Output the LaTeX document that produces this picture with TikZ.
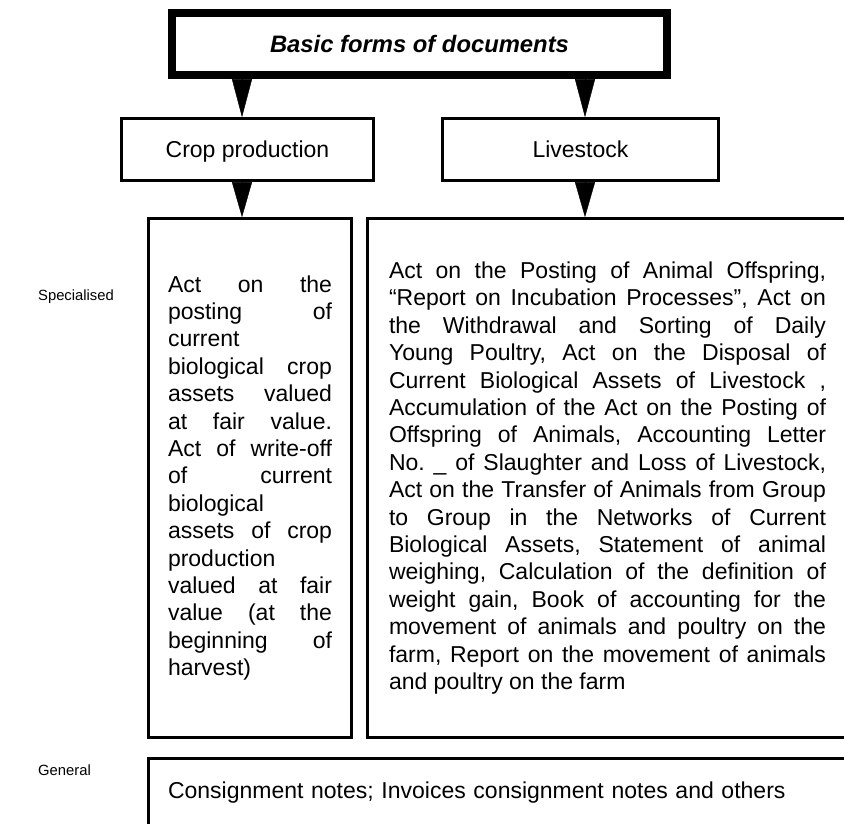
\documentclass[tikz,border=0pt]{standalone}
\usepackage{fontspec}
\setmainfont{Liberation Sans}
\usetikzlibrary{arrows.meta, positioning}
\newcommand{\listfont}{\fontsize{23}{27.4}\selectfont\frenchspacing\tolerance=10000\hbadness=10000\hyphenpenalty=10000}
\tikzset{
    titlenode/.style = {draw, rectangle, line width=8pt, inner sep=0pt, node distance=0em,
      minimum width=495pt, minimum height=62pt, font=\fontsize{23.8}{28}\selectfont\bfseries\itshape},
    groupnode/.style = {draw, rectangle, line width=2.6pt, inner sep=0pt, node distance=0em,
      minimum height=62pt, text height=19pt, text depth=2pt, font=\fontsize{23}{27.4}\selectfont},
    listnode/.style = {draw, rectangle, line width=2.6pt, inner sep=0pt, node distance=0em,
      minimum height=519pt, align=justify, font=\listfont},
    textnode/.style = {draw=none, fill=none, rectangle, inner sep=0pt, node distance=0em,
      font=\fontsize{14.8}{17}\selectfont},
    pointer/.style = {-{Triangle[length=#1, width=20pt]}, line width=0.4pt}
}

\begin{document}
\begin{tikzpicture}
    \useasboundingbox (0,0) rectangle (844pt,-824pt);
    \clip (0,0) rectangle (844pt,-824pt);

    \node [name=title, titlenode] at (419.5pt,-44pt) {Basic forms of documents};

    \node [name=crop, groupnode, minimum width=252pt,
        below of = title, xshift=-172pt, yshift=-105.5pt] {Crop production};
    \node [name=live, groupnode, minimum width=276pt,
        below of = title, xshift=161pt, yshift=-105.5pt] {Livestock};

    \node [name=croplist, listnode, minimum width=203pt, text width=164pt,
        below of = title, xshift=-169.5pt, yshift=-434pt] {Act on the\linebreak posting of\linebreak
        current\linebreak biological crop\linebreak assets valued\linebreak at fair value.\linebreak
        Act of write-off\linebreak of current\linebreak biological\linebreak assets of crop\linebreak
        production\linebreak valued at fair\linebreak value (at the\linebreak beginning of\linebreak harvest)};
    \node [name=livelist, listnode, minimum width=480pt, text width=437pt,
        below of = title, xshift=188pt, yshift=-434pt] {Act on the Posting of Animal Offspring,\linebreak
        “Report on Incubation Processes”, Act on\linebreak
        the Withdrawal and Sorting of Daily\linebreak
        Young Poultry, Act on the Disposal of\linebreak
        Current Biological Assets of Livestock ,\linebreak
        Accumulation of the Act on the Posting of\linebreak
        Offspring of Animals, Accounting Letter\linebreak
        No. \_ of Slaughter and Loss of Livestock,\linebreak
        Act on the Transfer of Animals from Group\linebreak
        to Group in the Networks of Current\linebreak
        Biological Assets, Statement of animal\linebreak
        weighing, Calculation of the definition of\linebreak
        weight gain, Book of accounting for the\linebreak
        movement of animals and poultry on the\linebreak
        farm, Report on the movement of animals\linebreak
        and poultry on the farm};

    \node [name=common, listnode, minimum width=0pt, minimum height=69pt, text width=680pt,
        inner xsep=19.5pt, align=left, below of = title, xshift=88.5pt, yshift=-749pt]
        {Consignment notes; Invoices consignment notes and others};

    \node [name=special, textnode, below of = title, xshift=-343.5pt, yshift=-253pt] {Specialised};
    \node [name=general, textnode, below of = title, xshift=-355pt, yshift=-726pt] {General};

    \draw [pointer=38pt] ([xshift=-5.5pt]crop.north |- title.south) -- ([xshift=-5.5pt]crop.north);
    \draw [pointer=38pt] ([xshift=4.5pt]live.north |- title.south) -- ([xshift=4.5pt]live.north);
    \draw [pointer=35pt] ([xshift=-5.5pt]crop.south) -- ([xshift=-5.5pt]crop.south |- croplist.north);
    \draw [pointer=35pt] ([xshift=4.5pt]live.south) -- ([xshift=4.5pt]live.south |- livelist.north);
\end{tikzpicture}
\end{document}
